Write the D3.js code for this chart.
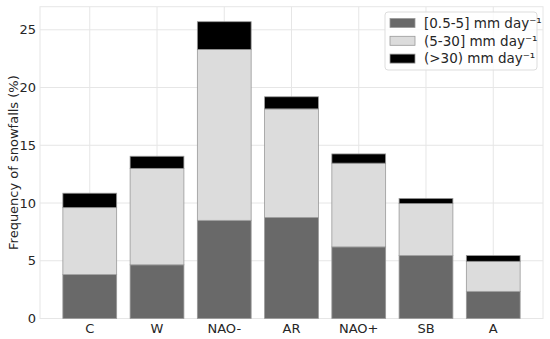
<!DOCTYPE html>
<head>
  <meta charset="utf-8">
  <title>Snowfall frequency</title>
  <script src="https://cdn.jsdelivr.net/npm/d3@7"></script>
  <style>
  body { margin: 0; background: #fff; }
  text { font-family: "DejaVu Sans", sans-serif; fill: #262626; }
  .grid line { stroke: #e6e6e6; stroke-width: 1; }
  </style>
</head>
<body>
<script>
// Data
var categories = ["C", "W", "NAO-", "AR", "NAO+", "SB", "A"];
var light = [3.8, 4.65, 8.5, 8.75, 6.2, 5.45, 2.35];     // [0.5-5]
var moderate = [5.8, 8.35, 14.8, 9.4, 7.25, 4.5, 2.6];  // (5-30)
var heavy = [1.25, 1.05, 2.4, 1.05, 0.8, 0.45, 0.5];    // (>30)
var seriesNames = ["[0.5-5] mm day\u207B\u00B9", "(5-30] mm day\u207B\u00B9", "(>30) mm day\u207B\u00B9"];
var seriesColors = ["#696969", "#dcdcdc", "#000000"];
var yTicks = [0, 5, 10, 15, 20, 25];

var width = 550, height = 339;
var margin = {left: 40, right: 7, top: 6.7, bottom: 20.5};

var svg = d3.select("body").append("svg")
    .attr("width", width)
    .attr("height", height);

var table = categories.map(function(c, i) {
  return {cat: c, s0: light[i], s1: moderate[i], s2: heavy[i]};
});
var stacked = d3.stack().keys(["s0", "s1", "s2"])(table);

// matplotlib-like x limits: bars span -0.4..6.4, plus 5% margins
var x = d3.scaleLinear()
    .domain([-0.74, categories.length - 1 + 0.74])
    .range([margin.left, width - margin.right]);
var bw = x(0.4) - x(-0.4);

var y = d3.scaleLinear()
    .domain([0, 27])
    .range([height - margin.bottom, margin.top]);

// grid
var grid = svg.append("g").attr("class", "grid");
grid.selectAll(".gy").data(yTicks).enter().append("line")
    .attr("x1", x.range()[0]).attr("x2", x.range()[1])
    .attr("y1", function(d) { return y(d); }).attr("y2", function(d) { return y(d); });
grid.selectAll(".gx").data(categories).enter().append("line")
    .attr("x1", function(d, i) { return x(i); }).attr("x2", function(d, i) { return x(i); })
    .attr("y1", y.range()[0]).attr("y2", y.range()[1]);

// frame
svg.append("rect")
    .attr("x", x.range()[0]).attr("y", y.range()[1])
    .attr("width", x.range()[1] - x.range()[0])
    .attr("height", y.range()[0] - y.range()[1])
    .attr("fill", "none").attr("stroke", "#e6e6e6");

// bars
svg.selectAll(".layer").data(stacked).enter().append("g")
    .attr("fill", function(d, i) { return seriesColors[i]; })
  .selectAll("rect").data(function(d) { return d; }).enter().append("rect")
    .attr("x", function(d, i) { return x(i) - bw / 2; })
    .attr("width", bw)
    .attr("y", function(d) { return y(d[1]); })
    .attr("height", function(d) { return y(d[0]) - y(d[1]); })
    .attr("stroke", "#999")
    .attr("stroke-width", 0.8);

// y axis labels
svg.selectAll(".yt").data(yTicks).enter().append("text")
    .attr("x", margin.left - 4)
    .attr("y", function(d) { return y(d); })
    .attr("dy", "0.35em")
    .attr("text-anchor", "end")
    .attr("font-size", 13)
    .text(function(d) { return d; });

// x axis labels
svg.selectAll(".xt").data(categories).enter().append("text")
    .attr("x", function(d, i) { return x(i); })
    .attr("y", y(0) + 14.5)
    .attr("text-anchor", "middle")
    .attr("font-size", 13)
    .text(function(d) { return d; });

svg.append("text")
    .attr("transform", "translate(13," + ((y.range()[0] + y.range()[1]) / 2) + ") rotate(-90)")
    .attr("text-anchor", "middle")
    .attr("dy", "0.35em")
    .attr("font-size", 13)
    .text("Frequency of snowfalls (%)");

// legend
var lg = svg.append("g").attr("transform", "translate(385,12)");
lg.append("rect")
    .attr("width", 152).attr("height", 58)
    .attr("rx", 3)
    .attr("fill", "#fff").attr("fill-opacity", 0.8)
    .attr("stroke", "#dddddd");
var items = lg.selectAll(".li").data(seriesNames).enter().append("g")
    .attr("transform", function(d, i) { return "translate(5," + (11 + i * 17.8) + ")"; });
items.append("rect")
    .attr("y", -4.5).attr("width", 25).attr("height", 9)
    .attr("fill", function(d, i) { return seriesColors[i]; })
    .attr("stroke", "#999").attr("stroke-width", 0.8);
items.append("text")
    .attr("x", 34)
    .attr("dy", "0.35em")
    .attr("font-size", 13.5)
    .text(function(d) { return d; });
</script>
</body>
</html>
